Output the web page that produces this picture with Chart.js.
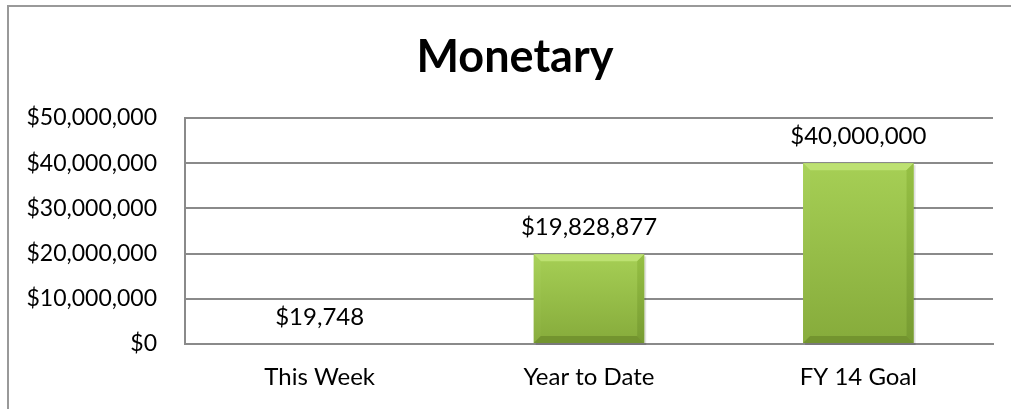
<!DOCTYPE html>
<html>
<head>
<meta charset="utf-8">
<script src="https://cdn.jsdelivr.net/npm/chart.js@4"></script>
<style>
  html, body { margin: 0; padding: 0; background: #fff; overflow: hidden; }
  canvas { display: block; }
</style>
</head>
<body>
<canvas id="chart" width="1011" height="409"></canvas>
<script>
const categories = ['This Week', 'Year to Date', 'FY 14 Goal'];
const values = [19748, 19828877, 40000000];
const yTicks = [0, 10000000, 20000000, 30000000, 40000000, 50000000];
const chartTitle = 'Monetary';

const FONT = 'Lato, "Open Sans", sans-serif';

function money(v) {
  return '$' + Math.round(v).toLocaleString('en-US');
}

// outer chart frame, only top and left edges show in the crop
const framePlugin = {
  id: 'framePlugin',
  beforeDraw(chart) {
    const ctx = chart.ctx;
    ctx.save();
    ctx.strokeStyle = '#999';
    ctx.lineWidth = 2;
    ctx.beginPath();
    ctx.moveTo(8, chart.height);
    ctx.lineTo(8, 6);
    ctx.lineTo(chart.width, 6);
    ctx.stroke();
    ctx.restore();
  }
};

// title sits a bit right of the canvas centre in the original
const titlePlugin = {
  id: 'titlePlugin',
  afterDraw(chart) {
    const ctx = chart.ctx;
    ctx.save();
    ctx.font = 'bold 45px ' + FONT;
    ctx.fillStyle = '#000';
    ctx.textAlign = 'center';
    ctx.textBaseline = 'middle';
    ctx.fillText(chartTitle, 515, 57);
    ctx.restore();
  }
};

// bevelled green bars, like the office chart style
const bevelBars = {
  id: 'bevelBars',
  afterDatasetsDraw(chart) {
    const ctx = chart.ctx;
    const meta = chart.getDatasetMeta(0);
    meta.data.forEach(function (bar) {
      const w = bar.width;
      const l = bar.x - w / 2, r = bar.x + w / 2;
      const t = bar.y, b = bar.base;
      const h = b - t;
      if (h < 2) return;
      const s = Math.min(7, h / 2);
      ctx.save();
      // soft shadow
      ctx.fillStyle = 'rgba(0,0,0,0.12)';
      ctx.fillRect(l + 2, t + 2, w, h);
      const g = ctx.createLinearGradient(0, t, 0, b);
      g.addColorStop(0, '#a6cf55');
      g.addColorStop(1, '#86ab3b');
      ctx.fillStyle = g;
      ctx.fillRect(l, t, w, h);
      // top bevel
      ctx.fillStyle = '#bde172';
      ctx.beginPath();
      ctx.moveTo(l, t); ctx.lineTo(r, t); ctx.lineTo(r - s, t + s); ctx.lineTo(l + s, t + s);
      ctx.closePath(); ctx.fill();
      // left bevel
      const gl = ctx.createLinearGradient(0, t, 0, b);
      gl.addColorStop(0, '#a9d25a');
      gl.addColorStop(1, '#89ad3e');
      ctx.fillStyle = gl;
      ctx.beginPath();
      ctx.moveTo(l, t); ctx.lineTo(l + s, t + s); ctx.lineTo(l + s, b - s); ctx.lineTo(l, b);
      ctx.closePath(); ctx.fill();
      // right bevel
      const gr = ctx.createLinearGradient(0, t, 0, b);
      gr.addColorStop(0, '#96c044');
      gr.addColorStop(1, '#779b32');
      ctx.fillStyle = gr;
      ctx.beginPath();
      ctx.moveTo(r, t); ctx.lineTo(r - s, t + s); ctx.lineTo(r - s, b - s); ctx.lineTo(r, b);
      ctx.closePath(); ctx.fill();
      // bottom bevel
      ctx.fillStyle = '#73942f';
      ctx.beginPath();
      ctx.moveTo(l, b); ctx.lineTo(r, b); ctx.lineTo(r - s, b - s); ctx.lineTo(l + s, b - s);
      ctx.closePath(); ctx.fill();
      ctx.restore();
    });
  }
};

// value labels above the bars
const valueLabels = {
  id: 'valueLabels',
  afterDatasetsDraw(chart) {
    const ctx = chart.ctx;
    const meta = chart.getDatasetMeta(0);
    ctx.save();
    ctx.font = '24px ' + FONT;
    ctx.fillStyle = '#000';
    ctx.textAlign = 'center';
    ctx.textBaseline = 'middle';
    meta.data.forEach(function (bar, i) {
      ctx.fillText(money(values[i]), bar.x, bar.y - 27);
    });
    ctx.restore();
  }
};

const data = {
  labels: categories,
  datasets: [{
    label: 'Monetary',
    data: values,
    backgroundColor: 'rgba(0,0,0,0)',
    borderWidth: 0,
    barPercentage: 0.82,
    categoryPercentage: 0.5
  }]
};

const config = {
  type: 'bar',
  data: data,
  options: {
    responsive: false,
    animation: false,
    events: [],
    layout: {
      padding: { top: 118, bottom: 20, left: 15, right: 18 }
    },
    plugins: {
      legend: { display: false },
      tooltip: { enabled: false },
      title: { display: false }
    },
    scales: {
      x: {
        afterFit(scale) { scale.height = 45; },
        grid: { display: false, drawTicks: false },
        border: { display: true, color: '#8a8a8a', width: 2 },
        ticks: { color: '#000', font: { family: FONT, size: 24 }, padding: 19 }
      },
      y: {
        min: 0,
        max: 50000000,
        afterFit(scale) { scale.width = 170; },
        afterBuildTicks(scale) { scale.ticks = yTicks.map(function (v) { return { value: v }; }); },
        grid: { color: '#8a8a8a', lineWidth: 2, drawTicks: false },
        border: { display: true, color: '#8a8a8a', width: 2 },
        ticks: {
          color: '#000',
          font: { family: FONT, size: 23 },
          padding: 28,
          callback: function (v) { return money(v); }
        }
      }
    }
  },
  plugins: [framePlugin, bevelBars, valueLabels, titlePlugin]
};

const monetaryChart = new Chart(document.getElementById('chart'), config);
</script>
</body>
</html>
